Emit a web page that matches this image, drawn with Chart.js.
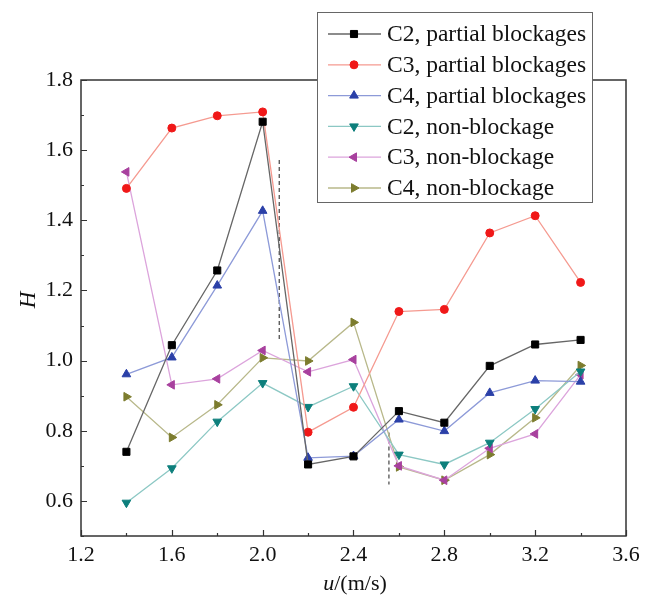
<!DOCTYPE html>
<html>
<head>
<meta charset="utf-8">
<script src="https://cdn.jsdelivr.net/npm/chart.js@4.4.1/dist/chart.umd.min.js"></script>
<style>
  html, body { margin: 0; padding: 0; background: #fff; }
  #wrap { position: relative; width: 656px; height: 599px; }
</style>
</head>
<body>
<div id="wrap"><canvas id="hChart"></canvas></div>
<script>
// flow speed u (m/s)
const speeds = [1.4, 1.6, 1.8, 2.0, 2.2, 2.4, 2.6, 2.8, 3.0, 3.2, 3.4];

// H values per configuration
const c2Partial = [0.740, 1.044, 1.257, 1.681, 0.704, 0.727, 0.856, 0.823, 0.985, 1.046, 1.059];
const c3Partial = [1.491, 1.663, 1.698, 1.709, 0.796, 0.867, 1.140, 1.146, 1.364, 1.413, 1.223];
const c4Partial = [0.961, 1.009, 1.214, 1.427, 0.723, 0.728, 0.832, 0.799, 0.908, 0.943, 0.940];
const c2Non = [0.595, 0.693, 0.826, 0.936, 0.868, 0.927, 0.732, 0.704, 0.766, 0.862, 0.969];
const c3Non = [1.538, 0.931, 0.948, 1.029, 0.968, 1.003, 0.700, 0.659, 0.750, 0.791, 0.960];
const c4Non = [0.897, 0.781, 0.874, 1.008, 0.999, 1.109, 0.697, 0.659, 0.732, 0.837, 0.986];

// dashed dividers
const divider1X = [2.073, 2.073];
const divider1Y = [1.572, 1.060];
const divider2X = [2.556, 2.556];
const divider2Y = [0.795, 0.647];

// axis ticks
const xTicks = [1.2, 1.6, 2.0, 2.4, 2.8, 3.2, 3.6];
const yTicks = [0.6, 0.8, 1.0, 1.2, 1.4, 1.6, 1.8];

const seriesLabels = ['C2, partial blockages', 'C3, partial blockages', 'C4, partial blockages',
                      'C2, non-blockage', 'C3, non-blockage', 'C4, non-blockage'];

function toPoints(xs, ys) {
    return xs.map((x, i) => ({ x: x, y: ys[i] }));
}

function series(label, values, lineColor, markColor, style, rotation, radius) {
    return {
        label: label,
        data: toPoints(speeds, values),
        borderColor: lineColor,
        borderWidth: 1.3,
        pointStyle: style,
        pointRotation: rotation,
        pointRadius: radius,
        pointBackgroundColor: markColor,
        pointBorderColor: markColor,
        pointBorderWidth: 1,
        tension: 0
    };
}

function divider(xs, ys) {
    return {
        label: '',
        isDivider: true,
        data: toPoints(xs, ys),
        borderColor: '#444',
        borderWidth: 1.2,
        borderDash: [4, 3],
        pointRadius: 0
    };
}

const serif = "'Liberation Serif', 'Times New Roman', serif";

// frame, inward ticks, axis titles, legend
const decorPlugin = {
    id: 'decor',
    afterDraw(chart) {
        const ctx = chart.ctx;
        const a = chart.chartArea;
        const xs = chart.scales.x, ys = chart.scales.y;
        ctx.save();
        ctx.strokeStyle = '#333';
        ctx.lineWidth = 1.5;
        ctx.strokeRect(a.left, a.top, a.right - a.left, a.bottom - a.top);

        ctx.lineWidth = 1.2;
        ctx.beginPath();
        for (let v = 0.5; v <= 1.801; v += 0.1) {
            const py = Math.round(ys.getPixelForValue(v)) + 0.5;
            const major = yTicks.some(t => Math.abs(t - v) < 1e-6);
            ctx.moveTo(a.left, py);
            ctx.lineTo(a.left + (major ? 6 : 3), py);
        }
        for (let v = 1.2; v <= 3.601; v += 0.2) {
            const px = Math.round(xs.getPixelForValue(v)) + 0.5;
            const major = xTicks.some(t => Math.abs(t - v) < 1e-6);
            ctx.moveTo(px, a.bottom);
            ctx.lineTo(px, a.bottom - (major ? 6 : 3));
        }
        ctx.stroke();

        // y title
        ctx.fillStyle = '#111';
        ctx.save();
        ctx.translate(29, 300);
        ctx.rotate(-Math.PI / 2);
        ctx.font = 'italic 23px ' + serif;
        ctx.textAlign = 'center';
        ctx.textBaseline = 'middle';
        ctx.fillText('H', 0, 0);
        ctx.restore();

        // x title: italic u + plain rest
        ctx.textBaseline = 'middle';
        ctx.textAlign = 'left';
        ctx.font = 'italic 22px ' + serif;
        const wU = ctx.measureText('u').width;
        ctx.font = '22px ' + serif;
        const wRest = ctx.measureText('/(m/s)').width;
        const x0 = 355 - (wU + wRest) / 2;
        ctx.font = 'italic 22px ' + serif;
        ctx.fillText('u', x0, 584);
        ctx.font = '22px ' + serif;
        ctx.fillText('/(m/s)', x0 + wU, 584);

        // legend box
        const lx = 317, ly = 12, lw = 275, lh = 190;
        ctx.fillStyle = '#fff';
        ctx.fillRect(lx, ly, lw, lh);
        ctx.strokeStyle = '#666';
        ctx.lineWidth = 1;
        ctx.strokeRect(lx + 0.5, ly + 0.5, lw, lh);
        const rows = chart.data.datasets.filter(d => !d.isDivider);
        rows.forEach((d, i) => {
            const cy = 34 + i * 30.8;
            ctx.strokeStyle = d.borderColor;
            ctx.lineWidth = 1.3;
            ctx.setLineDash([]);
            ctx.beginPath();
            ctx.moveTo(328, cy);
            ctx.lineTo(381, cy);
            ctx.stroke();
            ctx.fillStyle = d.pointBackgroundColor;
            ctx.strokeStyle = d.pointBorderColor;
            ctx.lineWidth = 1;
            Chart.helpers.drawPoint(ctx, {
                pointStyle: d.pointStyle,
                rotation: d.pointRotation,
                radius: d.pointRadius,
                borderWidth: 1
            }, 354, cy);
            ctx.fillStyle = '#111';
            ctx.font = '23.5px ' + serif;
            ctx.textAlign = 'left';
            ctx.textBaseline = 'middle';
            ctx.fillText(d.label, 387, cy + 1);
        });
        ctx.restore();
    }
};

new Chart(document.getElementById('hChart'), {
    type: 'line',
    data: {
        datasets: [
            series(seriesLabels[0], c2Partial, '#666666', '#000000', 'rect', 0, 5),
            series(seriesLabels[1], c3Partial, '#f59a90', '#f01818', 'circle', 0, 4),
            series(seriesLabels[2], c4Partial, '#8d9ad8', '#2b40a8', 'triangle', 0, 5),
            series(seriesLabels[3], c2Non, '#8cc8c4', '#0d7f7c', 'triangle', 180, 5),
            series(seriesLabels[4], c3Non, '#dca4dc', '#a8409e', 'triangle', 270, 5),
            series(seriesLabels[5], c4Non, '#b8b88a', '#7c7c2e', 'triangle', 90, 5),
            divider(divider1X, divider1Y),
            divider(divider2X, divider2Y)
        ]
    },
    options: {
        responsive: true,
        maintainAspectRatio: false,
        animation: false,
        layout: { padding: { left: 0, top: 80, right: 30, bottom: 0 } },
        plugins: {
            legend: { display: false },
            tooltip: { enabled: false }
        },
        scales: {
            x: {
                type: 'linear',
                min: 1.2,
                max: 3.6,
                afterBuildTicks: s => { s.ticks = xTicks.map(v => ({ value: v })); },
                afterFit: s => { s.height = 63; },
                grid: { display: false, drawTicks: false },
                border: { display: false },
                ticks: {
                    padding: 6,
                    color: '#111',
                    font: { family: serif, size: 22 },
                    callback: v => v.toFixed(1)
                }
            },
            y: {
                type: 'linear',
                min: 0.5,
                max: 1.8,
                afterBuildTicks: s => { s.ticks = yTicks.map(v => ({ value: v })); },
                afterFit: s => { s.width = 81; },
                grid: { display: false, drawTicks: false },
                border: { display: false },
                ticks: {
                    padding: 8,
                    color: '#111',
                    font: { family: serif, size: 22 },
                    callback: v => v.toFixed(1)
                }
            }
        }
    },
    plugins: [decorPlugin]
});
</script>
</body>
</html>
